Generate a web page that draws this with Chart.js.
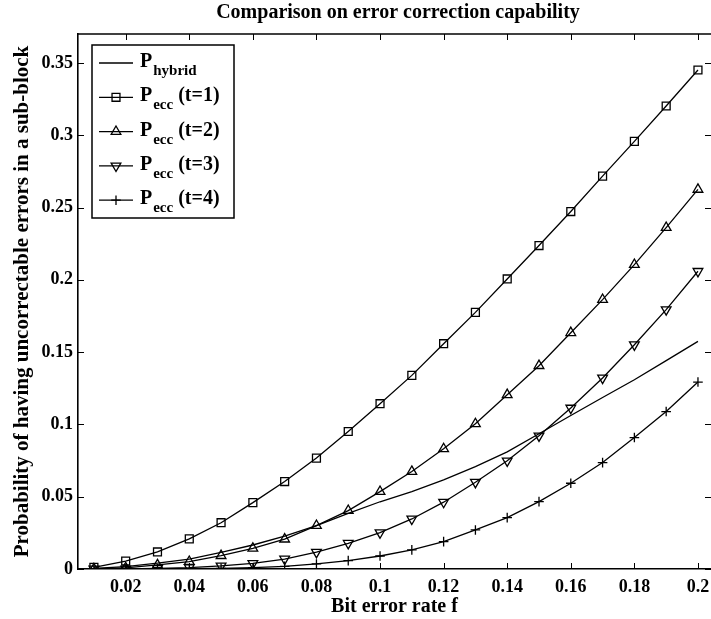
<!DOCTYPE html>
<html>
<head>
<meta charset="utf-8">
<script src="https://cdn.jsdelivr.net/npm/chart.js@4/dist/chart.umd.min.js"></script>
<style>
  html, body { margin: 0; padding: 0; background: #fff; overflow: hidden; }
  canvas { display: block; }
</style>
</head>
<body>
<canvas id="myChart" width="711" height="619"></canvas>
<script>
// bit error rate (x) and the five curves
const ber = [0.01, 0.02, 0.03, 0.04, 0.05, 0.06, 0.07, 0.08, 0.09, 0.10,
             0.11, 0.12, 0.13, 0.14, 0.15, 0.16, 0.17, 0.18, 0.19, 0.20];
const pHybrid = [0.0004, 0.0017, 0.0040, 0.0069, 0.0115, 0.0166, 0.0228, 0.0300, 0.0385, 0.0465,
                 0.0535, 0.0616, 0.0708, 0.0810, 0.0935, 0.1062, 0.1186, 0.1309, 0.1441, 0.1574];
const pEcc1 = [0.0012, 0.0055, 0.0118, 0.0208, 0.0320, 0.0459, 0.0605, 0.0767, 0.0951, 0.1143,
               0.1339, 0.1558, 0.1775, 0.2006, 0.2237, 0.2472, 0.2717, 0.2957, 0.3202, 0.3451];
const pEcc2 = [0.0001, 0.0008, 0.0028, 0.0051, 0.0092, 0.0143, 0.0206, 0.0300, 0.0404, 0.0535,
               0.0674, 0.0831, 0.1004, 0.1205, 0.1406, 0.1634, 0.1863, 0.2105, 0.2361, 0.2625];
const pEcc3 = [0, 0.0001, 0.0004, 0.0010, 0.0021, 0.0039, 0.0069, 0.0116, 0.0178, 0.0251,
               0.0346, 0.0462, 0.0600, 0.0748, 0.0921, 0.1113, 0.1321, 0.1551, 0.1794, 0.2059];
const pEcc4 = [0, 0, 0.0001, 0.0002, 0.0004, 0.0009, 0.0018, 0.0035, 0.0058, 0.0090,
               0.0132, 0.0189, 0.0270, 0.0355, 0.0466, 0.0593, 0.0736, 0.0909, 0.1089, 0.1293];

const xTicks = [0.02, 0.04, 0.06, 0.08, 0.1, 0.12, 0.14, 0.16, 0.18, 0.2];
const yTicks = [0, 0.05, 0.1, 0.15, 0.2, 0.25, 0.3, 0.35];

const legendSubs = ['hybrid', 'ecc', 'ecc', 'ecc', 'ecc'];
const legendSuffix = ['', ' (t=1)', ' (t=2)', ' (t=3)', ' (t=4)'];

const FONT = "'Liberation Serif', 'Times New Roman', serif";

const pts = (ys) => ber.map((x, i) => ({ x: x, y: ys[i] }));

function series(label, ys, style, rot, radius) {
  return {
    label: label,
    data: pts(ys),
    borderColor: '#000',
    backgroundColor: 'rgba(0,0,0,0)',
    borderWidth: 1.3,
    pointStyle: style,
    pointRotation: rot,
    pointRadius: radius,
    pointBorderWidth: 1.3,
    pointBorderColor: '#000',
    pointBackgroundColor: 'rgba(0,0,0,0)',
    tension: 0,
    fill: false
  };
}

const data = {
  datasets: [
    series('P hybrid', pHybrid, false, 0, 0),
    series('P ecc (t=1)', pEcc1, 'rect', 0, 5.6),
    series('P ecc (t=2)', pEcc2, 'triangle', 0, 5.6),
    series('P ecc (t=3)', pEcc3, 'triangle', 180, 5.6),
    series('P ecc (t=4)', pEcc4, 'cross', 0, 4.8)
  ]
};

// matlab style: ticks inside, box, title, legend with subscripts
const matlabBox = {
  id: 'matlabBox',
  afterDatasetsDraw(chart) {
    const ctx = chart.ctx;
    const a = chart.chartArea;
    const xs = chart.scales.x, ys = chart.scales.y;
    ctx.save();
    ctx.strokeStyle = '#000';
    ctx.lineWidth = 1;
    ctx.beginPath();
    xTicks.forEach(v => {
      const px = Math.round(xs.getPixelForValue(v)) + 0.5;
      ctx.moveTo(px, a.bottom); ctx.lineTo(px, a.bottom - 6);
      ctx.moveTo(px, a.top); ctx.lineTo(px, a.top + 6);
    });
    yTicks.forEach(v => {
      const py = Math.round(ys.getPixelForValue(v)) + 0.5;
      ctx.moveTo(a.left, py); ctx.lineTo(a.left + 6, py);
      ctx.moveTo(a.right, py); ctx.lineTo(a.right - 6, py);
    });
    ctx.stroke();
    // top border
    ctx.lineWidth = 1.6;
    ctx.beginPath();
    ctx.moveTo(a.left, a.top); ctx.lineTo(a.right, a.top);
    ctx.stroke();

    // title
    ctx.fillStyle = '#000';
    ctx.font = 'bold 20px ' + FONT;
    ctx.textAlign = 'center';
    ctx.textBaseline = 'alphabetic';
    ctx.fillText('Comparison on error correction capability', 398, 18);

    // legend
    const bx = 92, by = 45, bw = 142, bh = 173;
    ctx.fillStyle = '#fff';
    ctx.fillRect(bx, by, bw, bh);
    ctx.lineWidth = 1.5;
    ctx.strokeStyle = '#000';
    ctx.strokeRect(bx, by, bw, bh);
    chart.data.datasets.forEach((ds, i) => {
      const ly = 63 + i * 34.3;
      ctx.lineWidth = 1.3;
      ctx.beginPath();
      ctx.moveTo(99, ly); ctx.lineTo(133, ly);
      ctx.stroke();
      if (ds.pointStyle) {
        ctx.fillStyle = 'rgba(0,0,0,0)';
        Chart.helpers.drawPoint(ctx, {
          pointStyle: ds.pointStyle, rotation: ds.pointRotation,
          radius: ds.pointRadius, borderWidth: 1.3
        }, 116, ly);
      }
      ctx.fillStyle = '#000';
      ctx.textAlign = 'left';
      ctx.textBaseline = 'alphabetic';
      ctx.font = 'bold 20px ' + FONT;
      let tx = 140;
      ctx.fillText('P', tx, ly + 4);
      tx += ctx.measureText('P').width + 1;
      ctx.font = 'bold 15px ' + FONT;
      ctx.fillText(legendSubs[i], tx, ly + 12);
      tx += ctx.measureText(legendSubs[i]).width;
      if (legendSuffix[i]) {
        ctx.font = 'bold 20px ' + FONT;
        ctx.fillText(legendSuffix[i], tx, ly + 4);
      }
    });
    ctx.restore();
  }
};

const fmt = (v) => String(Math.round(v * 1000) / 1000);

const config = {
  type: 'line',
  data,
  options: {
    responsive: false,
    animation: false,
    layout: { autoPadding: false, padding: { top: 34, right: 0, left: 0, bottom: 0 } },
    plugins: {
      legend: { display: false },
      title: { display: false },
      tooltip: { enabled: false }
    },
    scales: {
      x: {
        type: 'linear',
        min: 0.005,
        max: 0.2041,
        afterBuildTicks: (s) => { s.ticks = xTicks.map(v => ({ value: v })); },
        afterFit: (s) => { s.height = 50; s.paddingLeft = 0; s.paddingRight = 0; },
        grid: { display: false, drawTicks: false },
        border: { display: true, color: '#000', width: 1.6 },
        ticks: {
          color: '#000', padding: 8, maxRotation: 0, autoSkip: false,
          font: { family: FONT, size: 18, weight: 'bold' },
          callback: (v) => fmt(v)
        },
        title: {
          display: true, text: 'Bit error rate f', color: '#000',
          font: { family: FONT, size: 20, weight: 'bold' },
          padding: { top: 0, bottom: 0 }
        }
      },
      y: {
        min: 0,
        max: 0.37,
        afterBuildTicks: (s) => { s.ticks = yTicks.map(v => ({ value: v })); },
        afterFit: (s) => { s.width = 78; s.paddingTop = 0; s.paddingBottom = 0; },
        grid: { display: false, drawTicks: false },
        border: { display: true, color: '#000', width: 1.6 },
        ticks: {
          color: '#000', padding: 5, autoSkip: false,
          font: { family: FONT, size: 18, weight: 'bold' },
          callback: (v) => fmt(v)
        },
        title: {
          display: true, text: 'Probability of having uncorrectable errors in a sub-block', color: '#000',
          font: { family: FONT, size: 21, weight: 'bold' },
          padding: { top: 10, bottom: 0 }
        }
      }
    }
  },
  plugins: [matlabBox]
};

var myChart = new Chart(document.getElementById('myChart'), config);
</script>
</body>
</html>
